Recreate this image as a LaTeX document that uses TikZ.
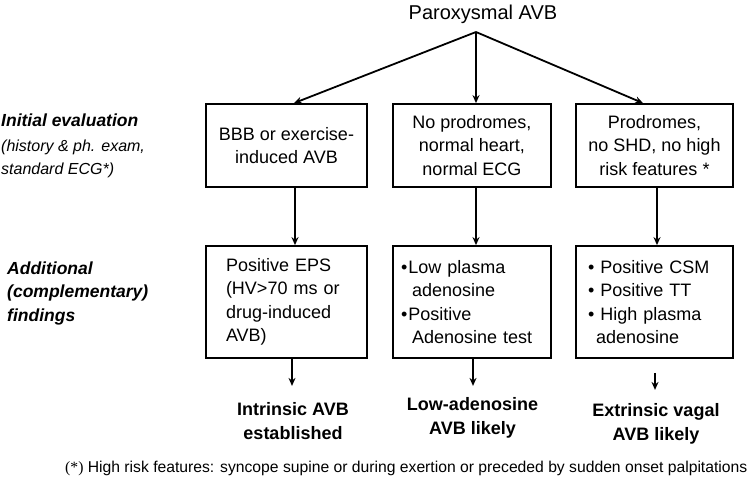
\documentclass[tikz,border=0pt]{standalone}
\usepackage{fontspec}
\setmainfont{Liberation Sans}
\newfontfamily\serifast{Liberation Serif}
\usetikzlibrary{arrows.meta}
\begin{document}
\begin{tikzpicture}[x=1pt,y=-1pt,
 box/.style={draw, line width=1.8pt, inner sep=0pt, font=\fontsize{18}{23.5}\selectfont},
 arr/.style={line width=1.8pt, -{Stealth[length=8pt,width=7pt]}},
 lab/.style={font=\fontsize{17.5}{23.5}\selectfont\bfseries\itshape, anchor=base west, align=left, inner sep=0pt},
 sub/.style={font=\fontsize{16}{23}\selectfont\itshape, anchor=base west, align=left, inner sep=0pt},
 res/.style={font=\fontsize{18}{23.5}\selectfont\bfseries, align=center, inner sep=0pt}]
\useasboundingbox (0,0) rectangle (750,488);
\node[font=\fontsize{20}{22}\selectfont, inner sep=0pt, anchor=base] (title) at (483,19) {Paroxysmal AVB};
\coordinate (apex) at (476,32);
% row 1
\node[box, minimum width=161pt, minimum height=83pt, align=center] (b1) at (286.5,145.5) {BBB or exercise-\\induced AVB};
\node[box, minimum width=158pt, minimum height=83pt, align=center] (b2) at (472,145.5) {No prodromes,\\normal heart,\\normal ECG};
\node[box, minimum width=157pt, minimum height=83pt, align=center] (b3) at (654.5,145.5) {Prodromes,\\no SHD, no high\\risk features *};
% row 2
\node[box, minimum width=161pt, text width=161pt, minimum height=112pt, align=left] (c1) at (286.5,302) {\hspace*{20pt}Positive EPS\\\hspace*{20pt}(HV>70 ms or\\\hspace*{20pt}drug-induced\\\hspace*{20pt}AVB)};
\node[box, minimum width=158pt, text width=158pt, minimum height=112pt, align=left] (c2) at (472,302) {\hspace*{8pt}\textbullet\hspace{1pt}Low plasma\\\hspace*{19pt}adenosine\\\hspace*{8pt}\textbullet\hspace{1pt}Positive\\\hspace*{19pt}Adenosine test};
\node[box, minimum width=157pt, text width=157pt, minimum height=112pt, align=left] (c3) at (654.5,302) {\hspace*{12pt}\textbullet\hspace{6pt}Positive CSM\\\hspace*{12pt}\textbullet\hspace{6pt}Positive TT\\\hspace*{12pt}\textbullet\hspace{6pt}High plasma\\\hspace*{20pt}adenosine};
% results
\node[res] (r1) at (293,421) {Intrinsic AVB\\established};
\node[res] (r2) at (472.5,418) {Low-adenosine\\AVB likely};
\node[res] (r3) at (656,424) {Extrinsic vagal\\AVB likely};
% left labels
\node[lab] (l1) at (1,126) {Initial evaluation};
\node[sub] (l1b) at (1,174) {(history \& ph. exam,\\standard ECG*)};
\node[lab] (l2) at (7,321) {Additional\\(complementary)\\findings};
% footnote
\node[font=\fontsize{15.7}{18}\selectfont, anchor=base west, inner sep=0pt] (fn) at (65,472) {{\serifast(*)} High risk features: syncope supine or during exertion or preceded by sudden onset palpitations};
% connectors
\draw[arr] (apex) -- ([xshift=7.5pt]b1.north);
\draw[arr] (apex) -- ([xshift=4pt]b2.north);
\draw[arr] (apex) -- ([xshift=-11.5pt]b3.north);
\draw[arr] ([xshift=8.5pt]b1.south) -- ([xshift=8.5pt]c1.north);
\draw[arr] ([xshift=4pt]b2.south) -- ([xshift=4pt]c2.north);
\draw[arr] ([xshift=2.5pt]b3.south) -- ([xshift=2.5pt]c3.north);
\draw[arr] ([xshift=5.5pt]c1.south) -- ([xshift=5.5pt,yshift=-27pt]c1.south);
\draw[arr] ([xshift=1pt]c2.south) -- ([xshift=1pt,yshift=-27pt]c2.south);
\draw[arr] ([xshift=0.5pt,yshift=-14pt]c3.south) -- ([xshift=0.5pt,yshift=-31pt]c3.south);
\end{tikzpicture}
\end{document}
